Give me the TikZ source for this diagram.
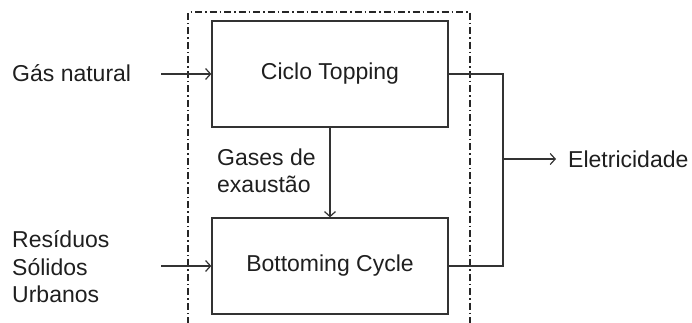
\documentclass[tikz,border=0pt]{standalone}
\usepackage{fontspec}
\setmainfont{Liberation Sans}
\usetikzlibrary{arrows.meta}
\begin{document}
\begin{tikzpicture}[x=1pt,y=-1pt,
  every node/.style={font=\fontsize{23}{27.5}\selectfont, text=black!88},
  line/.style={draw=black!80, line width=1.3pt},
  flow/.style={line, -{Straight Barb[length=5pt,width=11pt,line width=1.2pt]}},
  block/.style={line, rectangle, minimum width=236pt, inner sep=0pt},
  label/.style={inner sep=0pt, anchor=west, align=left},
  border/.style={draw=black!85, line width=1.1pt, dash pattern=on 7pt off 3pt on 1.5pt off 3pt}]
\useasboundingbox (0,0) rectangle (692,322);

% system boundary (open at the bottom)
\draw[border] (188,324) -- (188,12) -- (470,12) -- (470,324);

% process blocks
\node[block, minimum height=106pt] (top) at (330,74) {Ciclo Topping};
\node[block, minimum height=96pt] (bot) at (330,266) {Bottoming Cycle};

% inputs
\node[label] (gn) at (12,73) {Gás natural};
\node[label] (rsu) at (12,267) {Resíduos\\Sólidos\\Urbanos};
\coordinate (gnin) at (161,74);
\coordinate (rsuin) at (161,266);
\draw[flow] (gnin) -- (top.west);
\draw[flow] (rsuin) -- (bot.west);

% exhaust gases
\draw[flow] (top.south) -- (bot.north);
\node[label] (gas) at (217,171) {Gases de\\exaustão};

% electricity output
\coordinate (jt) at (503,74);
\coordinate (jb) at (503,266);
\coordinate (jm) at (503,159);
\draw[line] (top.east) -- (jt) -- (jb) -- (bot.east);
\node[label] (el) at (568,159) {Eletricidade};
\draw[flow] (jm) -- ([xshift=-12pt]el.west);
\end{tikzpicture}
\end{document}
